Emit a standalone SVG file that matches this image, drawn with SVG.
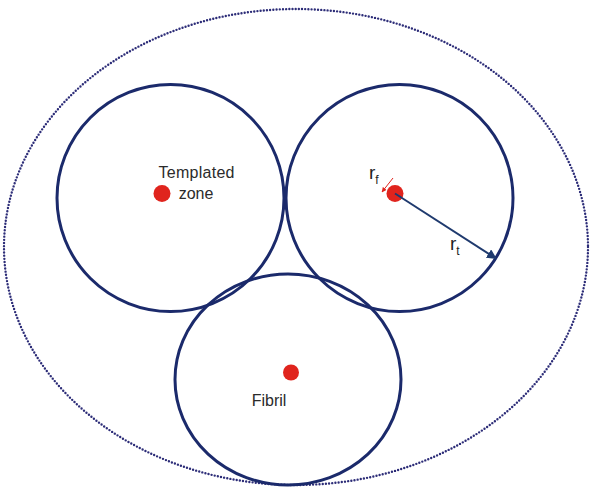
<svg xmlns="http://www.w3.org/2000/svg" width="591" height="488" viewBox="0 0 591 488">
<style>
.fib{fill:none;stroke:#1b2a6b;stroke-width:3}
.outer{fill:none;stroke:#2d2d78;stroke-width:2.4;stroke-dasharray:0 3.2;stroke-linecap:round}
.dot{fill:#e0241d}
.lbl{font-family:"Liberation Sans",Arial,sans-serif;font-size:16px;fill:#2b2b2b;text-anchor:middle}
.r{font-family:"Liberation Sans",Arial,sans-serif;font-size:19px;fill:#222}
.sub{font-size:12px}
</style>
<defs>
<marker id="ab" viewBox="0 0 10 10" refX="9" refY="5" markerWidth="5" markerHeight="5" orient="auto"><path d="M0,0 L10,5 L0,10 z" fill="#1f3a6e"/></marker>
<marker id="ar" viewBox="0 0 10 10" refX="9" refY="5" markerWidth="5" markerHeight="5" orient="auto"><path d="M0,0 L10,5 L0,10 z" fill="#e0241d"/></marker>
</defs>
<rect width="591" height="488" fill="#fff"/>
<g id="outer"><ellipse class="outer" cx="296" cy="247" rx="292" ry="238"/></g>
<g id="templated-zone">
<ellipse class="fib" cx="170.5" cy="198" rx="113.5" ry="113.5"/>
<circle class="dot" cx="162" cy="193.5" r="8.5"/>
<text class="lbl" x="196.5" y="178" textLength="76">Templated</text>
<text class="lbl" x="196" y="198.5">zone</text>
</g>
<g id="right-fibril">
<ellipse class="fib" cx="399.5" cy="198" rx="113.5" ry="113.5"/>
<circle class="dot" cx="395" cy="193.5" r="8.5"/>
</g>
<g id="fibril">
<ellipse class="fib" cx="288" cy="379.5" rx="113" ry="105.5"/>
<circle class="dot" cx="291" cy="372.5" r="8"/>
<text class="lbl" x="269" y="405.5">Fibril</text>
</g>
<g id="connectors">
<line x1="395" y1="193.5" x2="496" y2="258.5" stroke="#1f3a6e" stroke-width="2" marker-end="url(#ab)"/>
<line x1="393" y1="178" x2="382" y2="192" stroke="#e0241d" stroke-width="1" marker-end="url(#ar)"/>
</g>
<g id="labels">
<text class="r" x="369" y="179">r<tspan class="sub" dy="5">f</tspan></text>
<text class="r" x="450" y="250">r<tspan class="sub" dy="5">t</tspan></text>
</g>
</svg>
